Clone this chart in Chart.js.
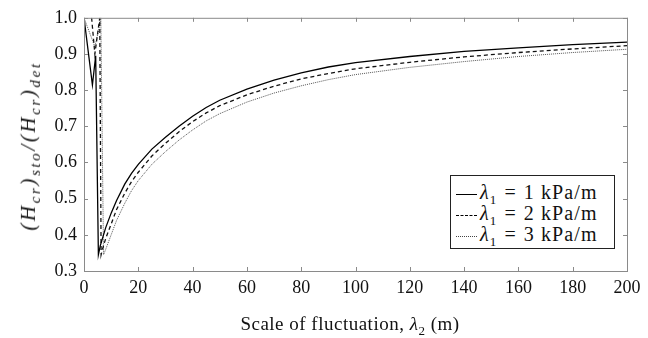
<!DOCTYPE html>
<html>
<head>
<meta charset="utf-8">
<script src="https://cdn.jsdelivr.net/npm/chart.js@4/dist/chart.umd.min.js"></script>
<style>
  body { margin: 0; background: #fff; }
  #wrap { position: relative; width: 648px; height: 338px; font-family: "Liberation Serif", serif; color: #111; }
  #ytitle { position: absolute; left: 30px; top: 146px; transform: translate(-50%, -50%) rotate(-90deg); white-space: nowrap; font-size: 21px; font-style: italic; letter-spacing: 2.6px; }
  #ytitle sub { font-size: 15px; }
  #xtitle { position: absolute; left: 350px; top: 326px; transform: translate(-50%, -50%); white-space: nowrap; font-size: 19px; letter-spacing: 0.5px; }
  #xtitle sub { font-size: 13px; }
  #legend { position: absolute; left: 450px; top: 175px; width: 163px; height: 72px; border: 1.3px solid #222; background: #fff; font-size: 20px; }
  #legend .row { position: absolute; left: 5px; height: 21px; line-height: 21px; white-space: nowrap; letter-spacing: 1.1px; }
  #legend .smp { display: inline-block; width: 21px; vertical-align: middle; margin-right: 3px; }
  #legend sub { font-size: 13px; }
  #legend .eq { margin: 0 7px; }
</style>
</head>
<body>
<div id="wrap">
  <canvas id="c" width="648" height="338"></canvas>
  <div id="ytitle">(H<sub>cr</sub>)<sub>sto</sub>/(H<sub>cr</sub>)<sub>det</sub></div>
  <div id="xtitle">Scale of fluctuation, <i>λ</i><sub>2</sub> (m)</div>
  <div id="legend">
    <div class="row" style="top:6px"><span class="smp" style="border-top:1.5px solid #000"></span><i>λ</i><sub>1</sub><span class="eq">=</span>1 kPa/m</div>
    <div class="row" style="top:27px"><span class="smp" style="border-top:1.5px dashed #000"></span><i>λ</i><sub>1</sub><span class="eq">=</span>2 kPa/m</div>
    <div class="row" style="top:48px"><span class="smp" style="border-top:1px dotted #444"></span><i>λ</i><sub>1</sub><span class="eq">=</span>3 kPa/m</div>
  </div>
</div>
<script>
// values
const x1 = [0, 3.1, 4.3, 5.3, 6, 7, 8, 10, 12, 15, 17.5, 20, 25, 30, 35, 40, 45, 50, 60, 70, 80, 90, 100, 120, 140, 160, 180, 200];
const y1 = [1.0, 0.814, 0.895, 0.345, 0.37, 0.395, 0.42, 0.46, 0.495, 0.54, 0.57, 0.595, 0.637, 0.67, 0.70, 0.728, 0.752, 0.772, 0.803, 0.828, 0.848, 0.864, 0.876, 0.893, 0.907, 0.917, 0.926, 0.933];

const x2 = [2.8, 4.0, 5.8, 6.3, 7, 8, 10, 12, 15, 17.5, 20, 25, 30, 35, 40, 45, 50, 60, 70, 80, 90, 100, 120, 140, 160, 180, 200];
const y2 = [1.0, 0.90, 1.0, 0.345, 0.365, 0.39, 0.43, 0.47, 0.515, 0.547, 0.573, 0.618, 0.653, 0.685, 0.713, 0.737, 0.757, 0.787, 0.811, 0.831, 0.846, 0.859, 0.877, 0.892, 0.904, 0.914, 0.923];

const x3 = [0, 4.0, 5.5, 6.2, 7.2, 8, 10, 12, 15, 17.5, 20, 25, 30, 35, 40, 45, 50, 60, 70, 80, 90, 100, 120, 140, 160, 180, 200];
const y3 = [1.0, 0.92, 0.97, 1.0, 0.345, 0.36, 0.40, 0.44, 0.487, 0.522, 0.55, 0.595, 0.63, 0.662, 0.69, 0.715, 0.735, 0.767, 0.792, 0.812, 0.829, 0.843, 0.863, 0.879, 0.893, 0.904, 0.913];

const xTicks = [0, 20, 40, 60, 80, 100, 120, 140, 160, 180, 200];
const yTicks = [0.3, 0.4, 0.5, 0.6, 0.7, 0.8, 0.9, 1.0];

const pts = (xs, ys) => xs.map((x, i) => ({ x: x, y: ys[i] }));

// pgfplots-like frame with inward ticks
const frame = {
  id: "frame",
  afterDraw(chart) {
    const ctx = chart.ctx, a = chart.chartArea;
    const sx = chart.scales.x, sy = chart.scales.y;
    ctx.save();
    ctx.strokeStyle = "#8a8a8a";
    ctx.lineWidth = 1;
    ctx.strokeRect(a.left + 0.5, a.top + 0.5, a.right - a.left, a.bottom - a.top);
    ctx.beginPath();
    xTicks.forEach(v => {
      const p = Math.round(sx.getPixelForValue(v)) + 0.5;
      ctx.moveTo(p, a.bottom); ctx.lineTo(p, a.bottom - 4);
      ctx.moveTo(p, a.top); ctx.lineTo(p, a.top + 4);
    });
    yTicks.forEach(v => {
      const p = Math.round(sy.getPixelForValue(v)) + 0.5;
      ctx.moveTo(a.left, p); ctx.lineTo(a.left + 4, p);
      ctx.moveTo(a.right, p); ctx.lineTo(a.right - 4, p);
    });
    ctx.stroke();
    ctx.restore();
  }
};

const tickFont = { family: "Liberation Serif", size: 18 };

new Chart(document.getElementById("c"), {
  type: "line",
  data: {
    datasets: [
      { label: "λ1 = 1 kPa/m", data: pts(x1, y1), borderColor: "#000", borderWidth: 1.3 },
      { label: "λ1 = 2 kPa/m", data: pts(x2, y2), borderColor: "#111", borderWidth: 1.3, borderDash: [4, 3] },
      { label: "λ1 = 3 kPa/m", data: pts(x3, y3), borderColor: "#555", borderWidth: 1, borderDash: [1, 1] }
    ]
  },
  options: {
    responsive: false,
    animation: false,
    events: [],
    elements: { point: { radius: 0 }, line: { tension: 0, fill: false } },
    layout: { padding: { top: 15, right: 21, left: 0, bottom: 0 } },
    plugins: { legend: { display: false }, tooltip: { enabled: false } },
    scales: {
      x: {
        type: "linear", min: 0, max: 200,
        afterBuildTicks: s => { s.ticks = xTicks.map(v => ({ value: v })); },
        afterFit: s => { s.height = 67; },
        grid: { display: false, drawTicks: false },
        border: { display: false },
        ticks: { font: tickFont, color: "#111", padding: 6, maxRotation: 0 }
      },
      y: {
        type: "linear", min: 0.3, max: 1.0,
        afterBuildTicks: s => { s.ticks = yTicks.map(v => ({ value: v })); },
        afterFit: s => { s.width = 84; },
        grid: { display: false, drawTicks: false },
        border: { display: false },
        ticks: { font: tickFont, color: "#111", padding: 7, callback: v => v.toFixed(1) }
      }
    }
  },
  plugins: [frame]
});
</script>
</body>
</html>
